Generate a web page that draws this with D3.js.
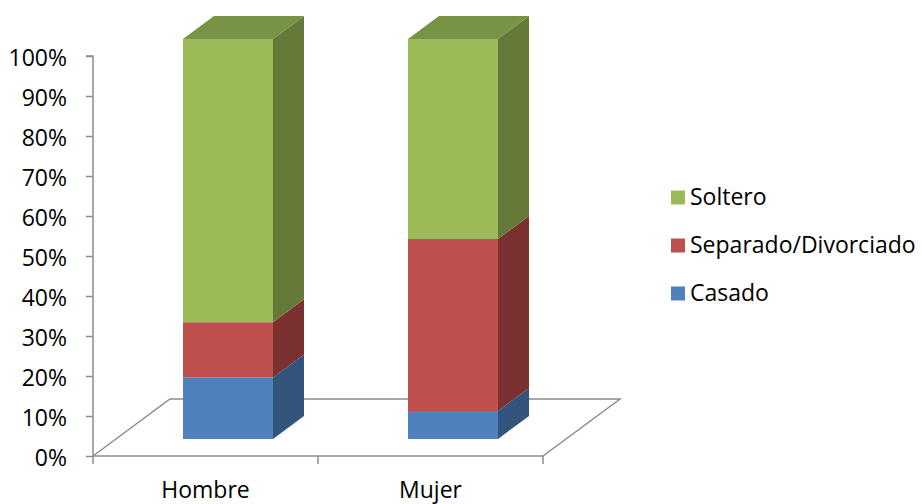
<!DOCTYPE html>
<html>
<head>
<meta charset="utf-8">
<script src="https://cdn.jsdelivr.net/npm/d3@7"></script>
<style>
  html, body { margin: 0; padding: 0; background: #fff; }
  svg { display: block; font-family: "Open Sans", Lato, sans-serif; }
</style>
</head>
<body>
<svg id="chart" width="922" height="504"></svg>
<script>
// Estado civil por sexo (porcentaje apilado al 100%)
const categories = ["Hombre", "Mujer"];
const seriesNames = ["Casado", "Separado/Divorciado", "Soltero"];
const casado = [15.4, 7.0];
const separado = [13.8, 43.0];
const soltero = [70.8, 50.0];
const yTicks = [0, 10, 20, 30, 40, 50, 60, 70, 80, 90, 100];

const seriesValues = [casado, separado, soltero];
const palette = {
  "Casado":              { front: "#4F81BD", side: "#33547B", top: "#3F6797" },
  "Separado/Divorciado": { front: "#C0504D", side: "#7A3130", top: "#9A403E" },
  "Soltero":             { front: "#9BBB59", side: "#657A39", top: "#779345" }
};

const fontFamily = "'Open Sans', Lato, sans-serif";
const fontSize = 23;

const svg = d3.select("#chart");

// Front plane of the plot
const plot = { left: 93, right: 543, top: 56, bottom: 456 };
// Receding floor depth and bar placement within that depth
const floorDepth = { dx: 77, dy: -57 };
const barOffset = { dx: 22.5, dy: -17 };
const barDepth = { dx: 31, dy: -23 };

const x = d3.scaleBand().domain(categories).range([plot.left, plot.right]).paddingInner(0).paddingOuter(0);
const y = d3.scaleLinear().domain([0, 100]).range([plot.bottom, plot.top]);
const barWidth = 90;

const axisColor = "#8C8C8C";

// Floor outline
const floor = svg.append("g").attr("fill", "none").attr("stroke", axisColor).attr("stroke-width", 1.5);
floor.append("path").attr("d", d3.line()([
  [plot.left, plot.bottom],
  [plot.left + floorDepth.dx, plot.bottom + floorDepth.dy],
  [plot.right + floorDepth.dx, plot.bottom + floorDepth.dy],
  [plot.right, plot.bottom]
]));
floor.append("line")
  .attr("x1", plot.left).attr("x2", plot.right)
  .attr("y1", plot.bottom).attr("y2", plot.bottom);

// Category ticks along the front edge
const catTicks = [plot.left, ...categories.map(c => x(c) + x.bandwidth())];
floor.selectAll("line.ct").data(catTicks).join("line")
  .attr("class", "ct")
  .attr("x1", d => d).attr("x2", d => d)
  .attr("y1", plot.bottom).attr("y2", plot.bottom + 8);

// Value axis
const yAxis = svg.append("g")
  .attr("transform", `translate(${plot.left},0)`)
  .call(d3.axisLeft(y).tickValues(yTicks).tickFormat(d => d + "%").tickSize(7).tickPadding(19));
yAxis.select(".domain").attr("stroke", axisColor).attr("stroke-width", 1.5)
  .attr("d", `M-7,${y(100)}H0V${y(0)}`);
yAxis.selectAll(".tick line").attr("stroke", axisColor).attr("stroke-width", 1.5);
yAxis.selectAll(".tick text")
  .attr("fill", "#000").attr("font-size", fontSize)
  .attr("font-family", fontFamily)
  .attr("dy", "0.43em");

// Stacked 3D bars
const stackData = categories.map((c, i) => {
  const row = { category: c };
  seriesNames.forEach((s, k) => row[s] = seriesValues[k][i]);
  return row;
});
const stacked = d3.stack().keys(seriesNames)(stackData);

const bars = svg.append("g");
categories.forEach((c, i) => {
  const x0 = x(c) + (x.bandwidth() - barWidth) / 2 + barOffset.dx;
  const x1 = x0 + barWidth;
  stacked.forEach((layer, k) => {
    const seg = layer[i];
    const col = palette[layer.key];
    const yb = y(seg[0]) + barOffset.dy;
    const yt = y(seg[1]) + barOffset.dy;
    const g = bars.append("g");
    // right side face
    g.append("path").attr("fill", col.side).attr("d", d3.line()([
      [x1, yb], [x1 + barDepth.dx, yb + barDepth.dy],
      [x1 + barDepth.dx, yt + barDepth.dy], [x1, yt]
    ]) + "Z");
    // front face
    g.append("rect").attr("fill", col.front)
      .attr("x", x0).attr("y", yt).attr("width", barWidth).attr("height", yb - yt);
    // top face on the last segment
    if (k === stacked.length - 1) {
      g.append("path").attr("fill", col.top).attr("d", d3.line()([
        [x0, yt], [x0 + barDepth.dx, yt + barDepth.dy],
        [x1 + barDepth.dx, yt + barDepth.dy], [x1, yt]
      ]) + "Z");
    }
  });
});

// Category labels
svg.append("g").selectAll("text").data(categories).join("text")
  .attr("x", d => x(d) + x.bandwidth() / 2)
  .attr("y", 498)
  .attr("text-anchor", "middle")
  .attr("font-size", fontSize)
  .attr("font-family", fontFamily)
  .attr("fill", "#000")
  .text(d => d);

// Legend (top series first)
const legendItems = seriesNames.slice().reverse();
const legend = svg.append("g").attr("transform", "translate(671,190.5)");
const li = legend.selectAll("g").data(legendItems).join("g")
  .attr("transform", (d, i) => `translate(0,${i * 48})`);
li.append("rect").attr("width", 14).attr("height", 14).attr("fill", d => palette[d].front);
li.append("text").attr("x", 19).attr("y", 14.5)
  .attr("font-size", fontSize).attr("font-family", fontFamily)
  .attr("fill", "#000").text(d => d);
</script>
</body>
</html>
